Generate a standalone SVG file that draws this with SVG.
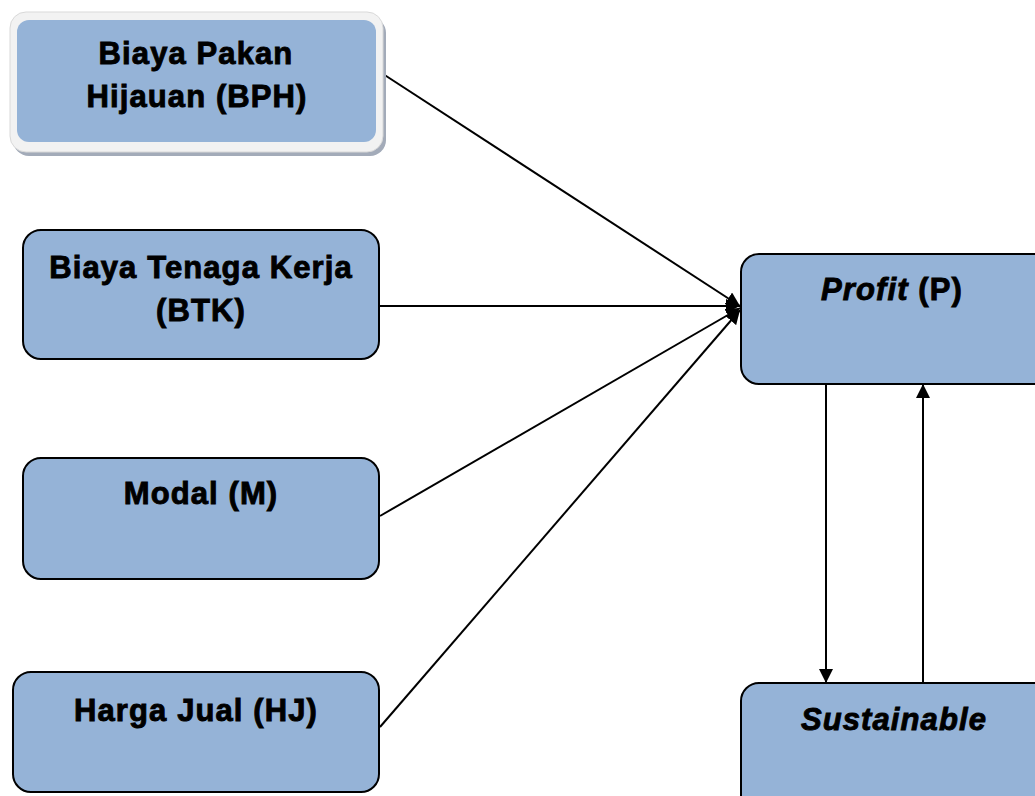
<svg xmlns="http://www.w3.org/2000/svg" width="1035" height="796" viewBox="0 0 1035 796">
  <style>
    .box { fill: #95b3d7; stroke: #000; stroke-width: 2; }
    .lbl { font-family: "Liberation Sans", Arial, sans-serif; font-size: 31px; font-weight: bold; letter-spacing: 1.1px; fill: #000; stroke: #000; stroke-width: 0.9; text-anchor: middle; }
    .it { font-style: italic; }
    .edge { stroke: #000; stroke-width: 2; fill: none; }
  </style>
  <defs>
    <marker id="arrow" viewBox="0 0 10 10" refX="10" refY="5" markerWidth="7" markerHeight="7" markerUnits="strokeWidth" orient="auto">
      <path d="M0,0 L10,5 L0,10 z" fill="#000"/>
    </marker>
  </defs>
  <rect width="1035" height="796" fill="#fff"/>

  <g id="connectors">
    <line class="edge" x1="380" y1="72" x2="740" y2="306" marker-end="url(#arrow)"/>
    <line class="edge" x1="380" y1="306" x2="740" y2="306" marker-end="url(#arrow)"/>
    <line class="edge" x1="380" y1="516" x2="740" y2="308" marker-end="url(#arrow)"/>
    <line class="edge" x1="380" y1="727" x2="740" y2="310" marker-end="url(#arrow)"/>
    <line class="edge" x1="826" y1="384" x2="826" y2="683" marker-end="url(#arrow)"/>
    <line class="edge" x1="923" y1="683" x2="923" y2="384" marker-end="url(#arrow)"/>
  </g>

  <g id="node-bph">
    <rect x="13" y="17" width="373" height="139" rx="16" fill="#a3abb9"/>
    <rect x="10" y="12" width="373" height="140" rx="16" fill="#f2f2f2" stroke="#d9d9d9" stroke-width="1"/>
    <rect x="17" y="20" width="359" height="122" rx="12" fill="#95b3d7"/>
    <text class="lbl" x="196" y="64">Biaya Pakan</text>
    <text class="lbl" x="197" y="107">Hijauan (BPH)</text>
  </g>

  <g id="node-btk">
    <rect class="box" x="23" y="230" width="356" height="129" rx="18"/>
    <text class="lbl" x="201" y="278">Biaya Tenaga Kerja</text>
    <text class="lbl" x="201" y="321">(BTK)</text>
  </g>

  <g id="node-m">
    <rect class="box" x="23" y="458" width="356" height="121" rx="18"/>
    <text class="lbl" x="201" y="504">Modal (M)</text>
  </g>

  <g id="node-hj">
    <rect class="box" x="13" y="672" width="366" height="120" rx="18"/>
    <text class="lbl" x="196" y="721">Harga Jual (HJ)</text>
  </g>

  <g id="node-p">
    <rect class="box" x="741" y="254" width="310" height="130" rx="18"/>
    <text class="lbl" x="892" y="300"><tspan class="it">Profit</tspan> (P)</text>
  </g>

  <g id="node-s">
    <rect class="box" x="741" y="683" width="310" height="130" rx="18"/>
    <text class="lbl it" x="894" y="730">Sustainable</text>
  </g>
</svg>
